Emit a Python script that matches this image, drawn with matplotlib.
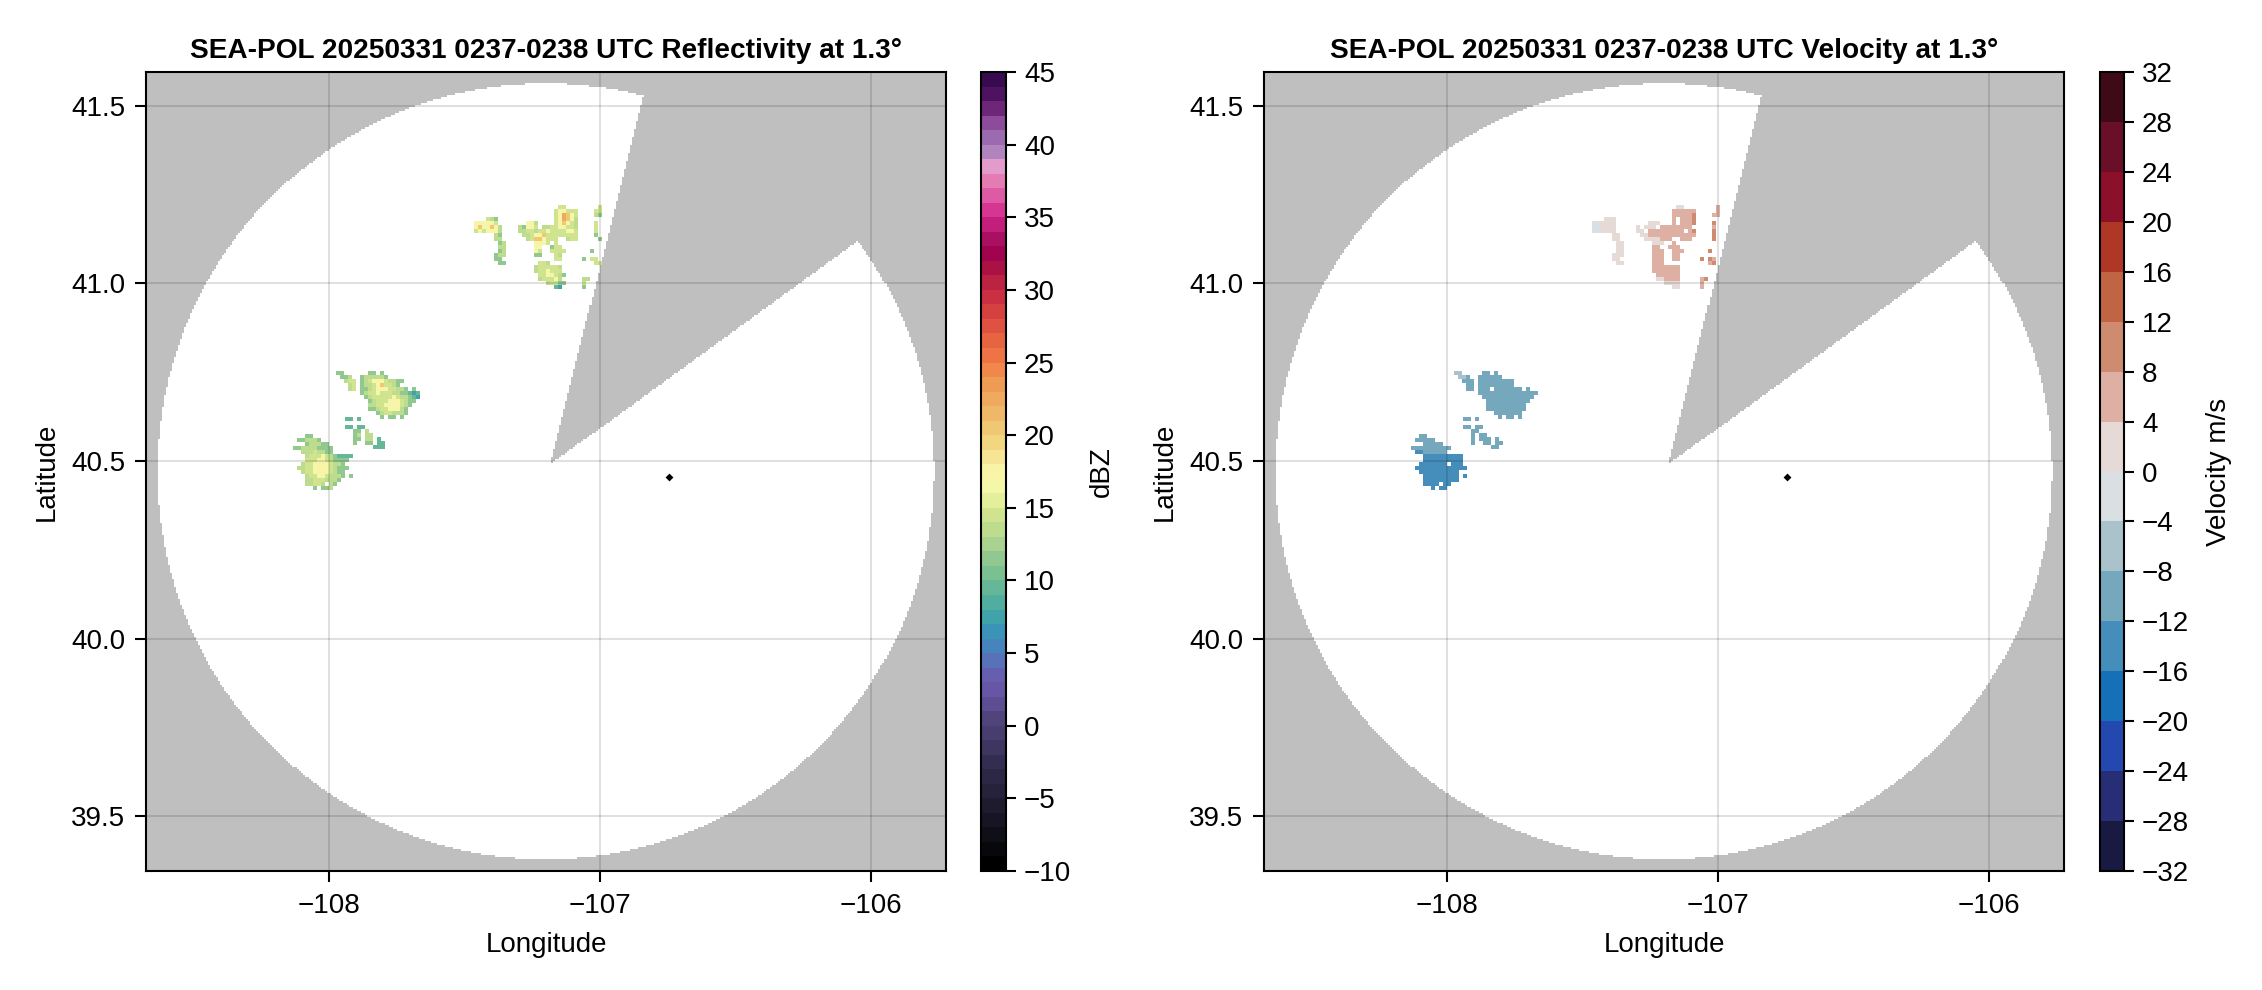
import numpy as np
import matplotlib
matplotlib.use("Agg")
import matplotlib.pyplot as plt
from matplotlib.colors import LinearSegmentedColormap, ListedColormap, BoundaryNorm
from matplotlib.cm import ScalarMappable

plt.rcParams['font.family'] = ['Liberation Sans', 'DejaVu Sans']

W, H = 2262, 990
TITLE_Z = "SEA-POL 20250331 0237-0238 UTC Reflectivity at 1.3°"
TITLE_V = "SEA-POL 20250331 0237-0238 UTC Velocity at 1.3°"

XLIM = (-108.673, -105.723)
YLIM = (39.346, 41.595)
XTICKS = [-108, -107, -106]
YTICKS = [39.5, 40.0, 40.5, 41.0, 41.5]
Z_TICKS = list(range(-10, 46, 5))
V_TICKS = list(range(-32, 33, 4))

RADAR_LON = [-106.744]
RADAR_LAT = [40.455]

# Coverage disc and blocked sector
CENTER_LON, CENTER_LAT = -107.199, 40.471
R_LON, R_LAT = 1.431, 1.092
APEX_LON, APEX_LAT = -107.181, 40.4916
EDGE1 = (0.3395, 1.033)   # lon, lat offset of the sector's first edge
EDGE2 = (1.129, 0.625)    # lon, lat offset of the sector's second edge
MASK_DLON, MASK_DLAT = 0.0074, 0.00563

# Echo grids: each char is one cell
CELL_DLON, CELL_DLAT = 0.01476, 0.01126
Z_CODE = dict(a=7, b=9, c=11, d=13, e=14, f=16, g=17, h=20, i=22)
V_CODE = dict(p=-14, q=-10, r=-6, s=-2, t=2, u=6, v=10, w=14)

ORIGIN_A = (-107.974, 40.753)
Z_A = [
    "cc......cc.c",
    ".ccd..cdddddc",
    "..dee.cdefgfeddcc",
    "...de.cddegheedc",
    "...de.ccdefgfeeddc.c",
    "......cdeefeeeddccbab",
    ".......cdeeeeefeddcba",
    "........cdeeefggedcc",
    "........ddeeffgfedc",
    "........ccdeefgfdc",
    "..........cdeedddc",
    "...........c.cc.c",
]
V_A = [
    "rr.....qq.q",
    ".rrq..qqqqqq",
    "..qqq.qqqqqqqqq",
    "...qq.qqqqqqqqq",
    "...qq.qqq.qqqqqqq.q",
    "......qqqqqqqqqqqqqqq",
    ".......qqqqqqqqqqqqq",
    "........qqqqqqqqqqq",
    "........qqqqqqqqqq",
    "........qqqqqqqqqq",
    "..........qqqqqqq",
    "...........q.qq.q",
]

ORIGIN_B = (-108.132, 40.576)
Z_B = [
    "...cc",
    ".ccdddc",
    "...cdddcc",
    "ccddddcccc",
    "..dddeddcc",
    "...deeefedcbbbb",
    "...eeeffedcccc",
    "..deefggfeddc",
    ".ddeefggfedccc",
    "..deefggfedcc",
    "...deeffedddc.c",
    "...ddeeedddc",
    "...ddeed.dc",
    ".....c.ccd",
]
V_B = [
    "..qq",
    ".qqqqq",
    "...qqqqq",
    "qqqqqqqqqq",
    ".ppqqqqqq",
    "...pppppppppp",
    "...pppppppppp",
    "..ppppppp.ppp",
    ".ppppppppppppp",
    "..pppppppppp",
    "...ppppppppp.p",
    "...ppppppppp",
    "...pppp.pp",
    ".....p.pp",
]

ORIGIN_D = (-107.94, 40.625)
Z_D = [
    "bb.b",
    "",
    "bb.bb",
    "..cc.d",
    "..cd.dd",
    "..cc.dd.b",
    "..c..cc.bb",
    ".......bbb",
]
V_D = [
    "qq.q",
    "",
    "qq.qq",
    "..qq",
    "..q.qq",
    "..q.qqq.q",
    "..q..qq.qq",
    ".......qq",
]

ORIGIN_C = (-107.465, 41.2205)
Z_C = [
    ".....................ee........e",
    "....................effeee....ee",
    "....................egihfe....dc",
    "...edc..............egihfd......",
    "fgffge.......fgd....eghfed....e",
    "fhfghgd....dcfge.ddeeffeed....e",
    "efefgfd....ddeedeefeeeeffe....e",
    ".....dc.....ddefgheeeeeeee....c",
    ".....dd......dehhfeee..dee.....c",
    "......cd.......ggfe.e",
    "......dd.......ff..cee",
    "......cd.......fe..eeee......c",
    ".....cdd.......cc...ed",
    ".....cc.............ee.....c.ee",
    "......cc........eed...........ee",
    "...............deeeeed",
    "...............deefeee",
    "................eeffedc",
    "................deeefd.....dd",
    "..................deecc....e",
    "....................ba.....c",
]
V_C = [
    ".....................tt........u",
    "....................uuuuuu.....u",
    "....................uuuuuv....uu",
    "...ttt..............u.uuuv",
    "sstttt........ttt...u.uuuv....v",
    "sstttt.....t.ttt.uuuuuuuu.....u",
    "sstttt.....tt.uuuuuuuuu.uv....v",
    ".....tt.....ttuuuuuuuuuuuu....v",
    ".....tt......ttttuuu..uuu.....v",
    "......tt.......ttt..u",
    "......tt.......uu..uuu",
    "......tt.......uuu..uuu......v",
    ".....ttt.......uuu..uu",
    ".....tt........uuu..uu.....v.vu",
    "......tt.......uuu...........uv",
    "...............uuuuuuu",
    "...............uuuuuuu",
    "................uuuuuu",
    "................ttuuuu.....uv",
    "..................tttt.....u",
    "....................tt.....u",
]

Z_ANCHORS = [
    (-10, "#000000"), (-8, "#0f0f17"), (-5, "#25213a"), (-3, "#332c50"), (0, "#4f4379"),
    (2, "#6653a3"), (3, "#6a5aad"), (4, "#5b6db8"), (5, "#4a80bd"), (6, "#3a90bc"),
    (7, "#3d9fae"), (8, "#4aaba0"), (9, "#5eb39a"), (10, "#73bd91"), (11, "#88c590"),
    (12, "#a0ce90"), (13, "#b6d98f"), (14, "#c8e08d"), (15, "#dbe992"), (16, "#eff5a5"),
    (17, "#fafab0"), (18, "#f7eda0"), (19, "#f5de8a"), (20, "#f1cf78"), (22, "#efb265"),
    (24, "#ee9650"), (25, "#f18048"), (26, "#ee6e44"), (27, "#e45f40"), (28, "#dc4c41"),
    (30, "#c72c42"), (31, "#b82044"), (32, "#a60d47"), (33, "#a00050"), (34, "#ad1466"),
    (35, "#c82080"), (36, "#d63a96"), (37, "#e060a8"), (38, "#e67fb5"), (39, "#e39fcf"),
    (40, "#ab82bd"), (41, "#9b68ad"), (42, "#8b4a9a"), (43, "#6c2577"), (44, "#4c1360"),
    (45, "#380a50"),
]
V_COLORS = [
    "#181a42", "#272e75", "#2349b0", "#1570b8", "#458dba", "#76a8bd", "#a9c2cc", "#d9dfe2",
    "#e6dad7", "#deb0a3", "#cf8b70", "#c06444", "#af3825", "#8c1029", "#6a0f28", "#3f0a17",
]

z_levels = np.arange(-10, 46)
z_cmap = LinearSegmentedColormap.from_list(
    "z", [((v + 10) / 55, c) for v, c in Z_ANCHORS]).resampled(55)
z_norm = BoundaryNorm(z_levels, 55)
v_levels = np.arange(-32, 33, 4)
v_cmap = ListedColormap(V_COLORS)
v_norm = BoundaryNorm(v_levels, 16)


def px_axes(x0, y0, x1, y1):
    return plt.gcf().add_axes([x0 / W, 1 - y1 / H, (x1 - x0) / W, (y1 - y0) / H])


def decode(rows, code):
    n = max(len(r) for r in rows)
    out = np.full((len(rows), n), np.nan)
    for j, r in enumerate(rows):
        for i, c in enumerate(r):
            if c in code:
                out[j, i] = code[c]
    return np.ma.masked_invalid(out)


def draw_grid(ax, rows, origin, code, cmap, norm):
    arr = decode(rows, code)
    xe = origin[0] + CELL_DLON * np.arange(arr.shape[1] + 1)
    ye = origin[1] - CELL_DLAT * np.arange(arr.shape[0] + 1)
    ax.pcolormesh(xe, ye, arr, cmap=cmap, norm=norm, shading='flat', linewidth=0,
                  antialiased=False, rasterized=True, zorder=2)


def coverage_mask():
    xe = np.arange(XLIM[0], XLIM[1] + MASK_DLON, MASK_DLON)
    ye = np.arange(YLIM[0], YLIM[1] + MASK_DLAT, MASK_DLAT)
    xc, yc = np.meshgrid(xe[:-1] + MASK_DLON / 2, ye[:-1] + MASK_DLAT / 2)
    outside = ((xc - CENTER_LON) / R_LON) ** 2 + ((yc - CENTER_LAT) / R_LAT) ** 2 > 1
    dx, dy = xc - APEX_LON, yc - APEX_LAT
    a = np.arctan2(dy, dx)
    a1 = np.arctan2(EDGE1[1], EDGE1[0])
    a2 = np.arctan2(EDGE2[1], EDGE2[0])
    sector = (a < a1) & (a > a2)
    m = outside | sector
    return xe, ye, np.ma.masked_where(~m, m.astype(float))


def style(ax):
    ax.set_xlim(*XLIM)
    ax.set_ylim(*YLIM)
    ax.set_xticks(XTICKS)
    ax.set_yticks(YTICKS)
    ax.set_yticklabels([f"{t:.1f}" for t in YTICKS])
    ax.grid(True, color='black', alpha=0.12, linewidth=1.5)
    ax.set_axisbelow(False)
    ax.tick_params(axis='y', labelsize=20, length=8, width=1.5, pad=7)
    ax.tick_params(axis='x', labelsize=20, length=8, width=1.5, pad=8)
    for s in ax.spines.values():
        s.set_linewidth(1.5)
    ax.set_xlabel("Longitude", fontsize=20, labelpad=9)
    ax.set_ylabel("Latitude", fontsize=20, labelpad=8)


def panel(ax, cax, title, grids, code, cmap, norm, ticks, label, lpad):
    xe, ye, m = coverage_mask()
    ax.pcolormesh(xe, ye, m, cmap=ListedColormap(["#bfbfbf"]), vmin=0, vmax=1,
                  shading='flat', antialiased=False, rasterized=True, zorder=1)
    for rows, origin in grids:
        draw_grid(ax, rows, origin, code, cmap, norm)
    ax.scatter(RADAR_LON, RADAR_LAT, marker='D', s=16, color='black', linewidths=0, zorder=4)
    style(ax)
    ax.set_title(title, fontsize=20.2, fontweight='bold', pad=10)
    cb = plt.gcf().colorbar(ScalarMappable(norm=norm, cmap=cmap), cax=cax, ticks=ticks,
                            spacing='proportional', drawedges=False)
    cb.ax.minorticks_off()
    cb.ax.tick_params(labelsize=20, length=7.5, width=1.5, pad=5.5)
    cb.outline.set_linewidth(1.5)
    cb.set_label(label, fontsize=20, labelpad=lpad)


fig = plt.figure(figsize=(W / 100, H / 100), dpi=100, facecolor='white')
ax1 = px_axes(146, 72, 946, 871)
cax1 = px_axes(981, 72, 1006, 871)
ax2 = px_axes(1264, 72, 2064, 871)
cax2 = px_axes(2100, 72, 2124, 871)

panel(ax1, cax1, TITLE_Z,
      [(Z_A, ORIGIN_A), (Z_B, ORIGIN_B), (Z_C, ORIGIN_C), (Z_D, ORIGIN_D)],
      Z_CODE, z_cmap, z_norm, Z_TICKS, "dBZ", 13)
panel(ax2, cax2, TITLE_V,
      [(V_A, ORIGIN_A), (V_B, ORIGIN_B), (V_C, ORIGIN_C), (V_D, ORIGIN_D)],
      V_CODE, v_cmap, v_norm, V_TICKS, "Velocity m/s", 12)

fig.savefig("out.png", dpi=100)
